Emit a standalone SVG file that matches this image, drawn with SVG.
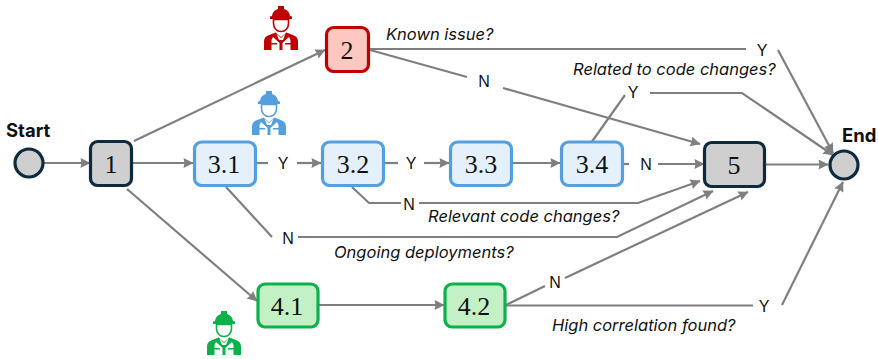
<svg xmlns="http://www.w3.org/2000/svg" width="878" height="359" viewBox="0 0 878 359">
<style>
.c{fill:none;stroke:#7f7f7f;stroke-width:2.2}
.a{marker-end:url(#ah)}
.t{font-family:"Liberation Serif",serif;font-size:26px;fill:#111;text-anchor:middle}
.l{font-family:"Liberation Sans",sans-serif;font-size:16px;fill:#111;text-anchor:middle}
.q{font-family:Inter,"Liberation Sans",sans-serif;font-size:16.500px;font-style:italic;fill:#111}
.b{font-family:Inter,"Liberation Sans",sans-serif;font-size:18.500px;font-weight:bold;fill:#111}
.g{fill:#cfcfcf;stroke:#0e2a3f;stroke-width:3.2}
.bl{fill:#e4f1fd;stroke:#559fdf;stroke-width:3.2}
.gr{fill:#c3f0c5;stroke:#0db14b;stroke-width:3.2}
.rd{fill:#fec8c0;stroke:#c00000;stroke-width:3.2}
</style>
<defs>
<marker id="ah" viewBox="0 0 10 10" refX="9.500" refY="5" markerWidth="11" markerHeight="10" markerUnits="userSpaceOnUse" orient="auto"><path d="M0 0L10 5L0 10L1 5Z" fill="#7f7f7f"/></marker>
<symbol id="w" viewBox="0 0 34 44" overflow="visible">
<path d="M8 10a9 8.500 0 0 1 6-7V0h6v3a9 8.500 0 0 1 6 7l2 .5V13H6v-2.500Z"/>
<path d="M9.500 13.500h15v4c0 4.500-3 8-7.500 8s-7.500-3.500-7.500-8Z" fill="#fff" stroke="currentColor" stroke-width="1.600"/>
<path d="M11.500 26.500L4 29.500C1.500 30.500 0 32.500 0 35.500V44H34V35.500C34 32.500 32.500 30.500 30 29.500L22.500 26.500 17 31Z"/>
<path d="M9 31L15.500 37V44H7.500V38.500H13V37H7.500V34Z M25 31L18.500 37V44H26.500V38.500H21V37H26.500V34Z" fill="#fff"/>
<path d="M12.500 27.500L17 32 21.500 27.500 19 34H15Z" fill="#fff"/>
</symbol>
</defs>
<g id="connectors">
<path class="c a" d="M44 163H90"/>
<path class="c a" d="M134 141L325 50"/>
<path class="c a" d="M133 163H193"/>
<path class="c a" d="M127 189L257 301"/>
<path class="c" d="M257 163H268"/>
<path class="c a" d="M297 163H321"/>
<path class="c" d="M385 163H398"/>
<path class="c a" d="M424 163H449"/>
<path class="c a" d="M513 163H560"/>
<path class="c" d="M624 164H629"/>
<path class="c a" d="M658 164H704"/>
<path class="c a" d="M766 164.500H828"/>
<path class="c" d="M370 49L746 49"/>
<path class="c a" d="M778 50L833 153"/>
<path class="c" d="M370 50L467 77"/>
<path class="c a" d="M503 88L700 144"/>
<path class="c" d="M591 143L625 95"/>
<path class="c a" d="M650 93H742L833 155"/>
<path class="c" d="M352 187L369 203H401"/>
<path class="c a" d="M419 203H638L700 181"/>
<path class="c" d="M226 187L272 237"/>
<path class="c a" d="M298 237H617L713 191"/>
<path class="c a" d="M319 305H444"/>
<path class="c" d="M506 305L545 286"/>
<path class="c a" d="M565 278L748 192"/>
<path class="c" d="M506 305.500H753"/>
<path class="c a" d="M782 305L843 182"/>
</g>
<g id="start"><circle class="g" cx="29" cy="163" r="14"/><text class="b" x="6" y="137">Start</text></g>
<g id="end"><circle class="g" cx="844" cy="165" r="14"/><text class="b" x="842" y="142">End</text></g>
<g id="node-1"><rect class="g" x="90.500" y="141.500" width="41" height="44" rx="7"/><text class="t" x="111" y="173">1</text></g>
<g id="node-2"><rect class="rd" x="326.500" y="27.500" width="42" height="44" rx="7"/><text class="t" x="347" y="59">2</text></g>
<g id="node-3-1"><rect class="bl" x="194.500" y="142" width="61" height="43.500" rx="7"/><text class="t" x="224" y="173">3.1</text></g>
<g id="node-3-2"><rect class="bl" x="322.500" y="142" width="61" height="43.500" rx="7"/><text class="t" x="353" y="173">3.2</text></g>
<g id="node-3-3"><rect class="bl" x="450.500" y="142" width="61" height="43.500" rx="7"/><text class="t" x="481" y="173">3.3</text></g>
<g id="node-3-4"><rect class="bl" x="561.500" y="142" width="61" height="43.500" rx="7"/><text class="t" x="592" y="173">3.4</text></g>
<g id="node-5"><rect class="g" x="704.500" y="142.500" width="60" height="44" rx="7"/><text class="t" x="734" y="174">5</text></g>
<g id="node-4-1"><rect class="gr" x="258" y="284" width="60" height="43" rx="7"/><text class="t" x="287" y="315">4.1</text></g>
<g id="node-4-2"><rect class="gr" x="445" y="284" width="60" height="43" rx="7"/><text class="t" x="474" y="315">4.2</text></g>
<g id="worker-red" color="#c00000" fill="#c00000"><use href="#w" x="264" y="6" width="34" height="44"/></g>
<g id="worker-blue" color="#559fdf" fill="#559fdf"><use href="#w" x="252" y="91" width="34" height="44"/></g>
<g id="worker-green" color="#0db14b" fill="#0db14b"><use href="#w" x="207" y="311" width="34" height="44"/></g>
<g id="labels">
<text class="l" x="283" y="169">Y</text>
<text class="l" x="411" y="169">Y</text>
<text class="l" x="646" y="170">N</text>
<text class="l" x="484" y="87">N</text>
<text class="l" x="762" y="56">Y</text>
<text class="l" x="633" y="98">Y</text>
<text class="l" x="409" y="210">N</text>
<text class="l" x="288" y="244">N</text>
<text class="l" x="555" y="288">N</text>
<text class="l" x="764" y="312">Y</text>
<text class="q" x="386" y="40">Known issue?</text>
<text class="q" x="573" y="75">Related to code changes?</text>
<text class="q" x="428" y="222">Relevant code changes?</text>
<text class="q" x="334" y="258">Ongoing deployments?</text>
<text class="q" x="552" y="331">High correlation found?</text>
</g>
</svg>
